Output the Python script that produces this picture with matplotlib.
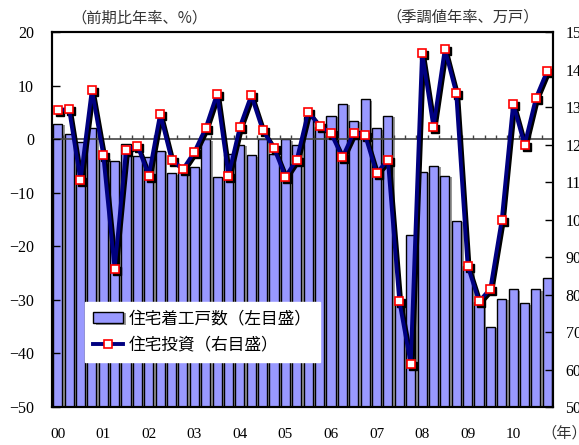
import matplotlib
matplotlib.use("Agg")
import matplotlib.pyplot as plt
import matplotlib.patheffects as pe
import matplotlib.transforms as mtransforms
import numpy as np

# 四半期 2000Q1 - 2010Q4
years = ["00", "01", "02", "03", "04", "05", "06", "07", "08", "09", "10"]

# 住宅着工戸数（季調値年率、万戸）
starts = [125.6, 122.9, 120.6, 124.4,
          116.4, 115.6, 120.1, 117.0,
          116.7, 118.3, 112.3, 112.6,
          113.9, 121.4, 111.4, 117.4,
          120.0, 117.1, 121.4, 117.4,
          121.4, 120.0, 127.4, 124.7,
          127.6, 130.9, 126.3, 132.1,
          124.3, 127.6, 77.9, 96.0,
          112.7, 114.4, 111.7, 99.7,
          87.7, 78.1, 71.4, 78.9,
          81.4, 77.7, 81.4, 84.3]

# 住宅投資（前期比年率、%）
invest = [5.4, 5.6, -7.7, 9.2,
          -2.9, -24.2, -2.1, -1.2,
          -6.8, 4.7, -3.8, -5.6,
          -2.4, 2.1, 8.5, -6.8,
          2.3, 8.2, 1.7, -1.7,
          -7.0, -3.8, 5.1, 2.5,
          1.1, -3.4, 1.2, 0.7,
          -6.3, -3.9, -30.2, -41.9,
          16.1, 2.3, 16.8, 8.6,
          -23.6, -30.3, -27.9, -15.0,
          6.6, -1.1, 7.7, 12.8]

label_bar = "住宅着工戸数（左目盛）"
label_line = "住宅投資（右目盛）"

serif = "Liberation Serif"
cjk = ["Noto Sans CJK JP", "DejaVu Sans"]

fig = plt.figure(figsize=(5.79, 4.45), dpi=100)
ax = fig.add_axes([0.0898, 0.0854, 0.8653, 0.8426])
ax2 = ax.twinx()

x = np.arange(len(starts))

# bars on the right scale, from the bottom
bars = ax2.bar(x, np.array(starts) - 50, bottom=50, width=0.8,
               color="#9999FF", edgecolor="black", linewidth=1.0,
               label=label_bar)
for b in bars:
    b.set_path_effects([pe.SimplePatchShadow(offset=(2, -1), shadow_rgbFace="#999999", alpha=1),
                        pe.Normal()])
ax2.set_ylim(50, 150)
ax2.set_yticks(np.arange(50, 151, 10))

ax.set_zorder(ax2.get_zorder() + 1)
ax.patch.set_visible(False)

# zero line with quarter ticks
ax.axhline(0, color="#444444", linewidth=1.2, zorder=1)
ax.vlines(x[1:] - 0.5, 0, 0.8, color="#444444", linewidth=1.0, zorder=1)

# line shadow
shadow = mtransforms.offset_copy(ax.transData, fig=fig, x=2, y=-2, units="dots")
ax.plot(x, invest, color="black", linewidth=2.8, marker="s", markersize=6,
        markerfacecolor="black", markeredgecolor="black", transform=shadow, zorder=2)
line, = ax.plot(x, invest, color="#000080", linewidth=2.8, marker="s", markersize=6,
                markerfacecolor="white", markeredgecolor="red", markeredgewidth=1.2,
                zorder=3, label=label_line)

ax.set_xlim(-0.5, len(starts) - 0.5)
ax.set_ylim(-50, 20)
ax.set_yticks(np.arange(-50, 21, 10))
ax.set_xticks(x[::4])
ax.set_xticklabels(years)

for a in (ax, ax2):
    for s in a.spines.values():
        s.set_linewidth(1.5)
ax.tick_params(axis="y", direction="in", length=6, width=1, pad=13, labelsize=11.5)
ax2.tick_params(axis="y", direction="in", length=6, width=1, pad=9, labelsize=11.5)
ax.tick_params(axis="x", length=0, pad=15, labelsize=11)
for t in ax.get_yticklabels() + ax2.get_yticklabels() + ax.get_xticklabels():
    t.set_fontfamily(serif)

leg = ax.legend(handles=[bars, line], loc="upper left", bbox_to_anchor=(0.066, 0.28),
                borderaxespad=0, frameon=True, fancybox=False, framealpha=1,
                edgecolor="white", prop={"family": cjk, "size": 12},
                handlelength=1.8, handletextpad=0.3, labelspacing=0.55,
                borderpad=0.5)

fig.text(0.124, 0.96, "（前期比年率、%）", family=cjk, fontsize=11, color="#333333",
         va="center", ha="left")
fig.text(0.668, 0.962, "（季調値年率、万戸）", family=cjk, fontsize=11, color="#333333",
         va="center", ha="left")
fig.text(0.975, 0.008, "（年）", family=cjk, fontsize=11, color="#333333",
         va="bottom", ha="center")

fig.savefig("out.png", dpi=100)
